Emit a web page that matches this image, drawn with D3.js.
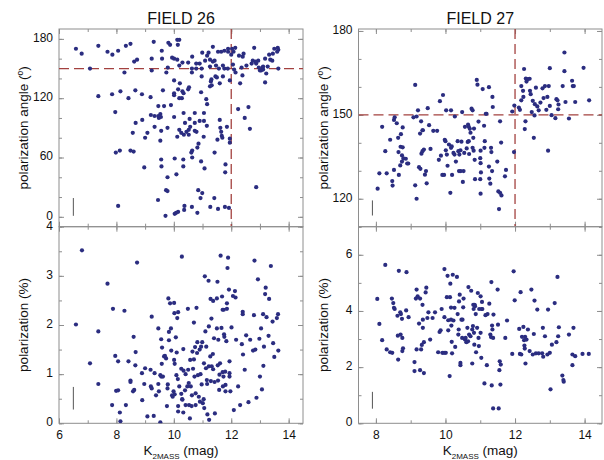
<!DOCTYPE html>
<html>
<head>
<meta charset="utf-8">
<script src="https://cdn.jsdelivr.net/npm/d3@7"></script>
<style>
  body { margin: 0; background: #ffffff; }
  text { font-family: "Liberation Sans", Arial, Helvetica, sans-serif; }
</style>
</head>
<body>
<div id="container"></div>
<script>
let w = 604;
let h = 460;

// DATA  [K_2MASS, value]
let field26Angle = [
  [6.59,170],[6.79,165],[7.08,150],[7.37,173],[7.37,122],[7.69,167],[7.86,164],[7.85,124],[7.96,106],[7.98,65],
  [8.06,168],[8.14,127],[8.12,67],[8.06,11],[8.28,146],[8.33,173],[8.49,175],[8.42,120],[8.62,157],[8.72,159],
  [8.66,128],[8.67,95],[8.49,67],[8.60,66],[8.57,85],[8.89,124],[8.90,98],[9.00,80],[8.97,50],[9.08,85],
  [9.19,121],[9.23,148],[9.23,160],[9.30,177],[9.20,103],[9.33,102],[9.33,91],[9.46,112],[9.46,102],[9.48,100],
  [9.53,104],[9.55,101],[9.58,168],[9.59,160],[9.66,112],[9.62,128],[9.56,87],[9.53,77],[9.56,58],[9.57,51],
  [9.45,17],[9.73,27],[9.78,26],[9.71,1],[9.78,40],[9.78,90],[9.74,146],[9.79,151],[9.81,176],[9.87,174],
  [9.90,113],[9.94,161],[10.01,160],[10.01,138],[10.01,125],[10.01,123],[10.01,101],[10.03,59],[10.03,3],[10.09,43],
  [10.08,4],[10.12,81],[10.12,159],[10.14,174],[10.12,179],[10.19,179],[10.19,153],[10.15,129],[10.19,120],[10.21,135],
  [10.19,88],[10.15,5],[10.26,85],[10.28,120],[10.30,156],[10.30,127],[10.33,58],[10.33,51],[10.35,83],[10.37,11],
  [10.34,125],[10.36,7],[10.34,105],[10.39,95],[10.44,86],[10.50,129],[10.53,131],[10.50,156],[10.52,83],[10.52,88],
  [10.55,99],[10.57,91],[10.64,162],[10.63,150],[10.63,146],[10.61,65],[10.64,67],[10.64,60],[10.63,10],[10.73,105],
  [10.73,95],[10.73,87],[10.78,155],[10.78,150],[10.79,86],[10.82,70],[10.82,4],[10.85,27],[10.86,74],[10.90,97],
  [10.90,155],[10.93,19],[10.95,56],[10.95,126],[10.97,150],[10.99,24],[10.97,142],[10.99,166],[11.05,97],[11.04,81],
  [11.07,49],[11.09,158],[11.05,105],[11.13,119],[11.15,92],[11.16,114],[11.16,163],[11.21,166],[11.26,159],[11.26,152],
  [11.26,132],[11.27,10],[11.29,137],[11.31,139],[11.32,133],[11.36,172],[11.36,157],[11.42,158],[11.42,65],[11.41,19],
  [11.45,142],[11.47,153],[11.50,141],[11.52,78],[11.54,167],[11.54,8],[11.57,150],[11.60,135],[11.60,98],[11.62,90],
  [11.65,86],[11.67,82],[11.65,167],[11.71,153],[11.71,142],[11.69,80],[11.76,150],[11.76,168],[11.78,10],[11.79,45],
  [11.80,53],[11.85,91],[11.89,167],[11.89,170],[11.88,150],[11.92,9],[11.95,138],[11.95,79],[11.95,75],[12.00,164],
  [12.03,170],[12.06,154],[12.08,167],[12.14,171],[12.10,149],[12.15,146],[12.24,109],[12.27,163],[12.31,135],[12.36,151],
  [12.39,143],[12.40,162],[12.43,165],[12.47,100],[12.53,153],[12.60,111],[12.65,89],[12.71,155],[12.75,158],[12.80,171],
  [12.84,157],[12.87,30],[12.87,155],[12.94,158],[12.96,151],[13.00,148],[13.04,148],[13.09,151],[13.11,149],[13.11,152],
  [13.18,136],[13.18,160],[13.22,145],[13.27,152],[13.32,164],[13.36,159],[13.43,158],[13.45,165],[13.50,170],[13.62,171],
  [13.64,169],[13.60,167],[13.64,150]
];

let field26Pol = [
  [6.59,2.01],[6.80,3.52],[7.08,1.22],[7.37,1.87],[7.37,0.80],[7.69,2.84],[7.88,2.33],[7.85,0.37],[7.96,1.37],[7.99,0.66],
  [8.06,0.67],[8.06,1.26],[8.12,0.22],[8.14,0.04],[8.28,2.29],[8.33,0.37],[8.42,1.26],[8.49,0.87],[8.49,0.84],[8.60,1.76],
  [8.58,0.65],[8.62,0.68],[8.67,1.45],[8.66,1.18],[8.72,3.27],[8.89,1.02],[8.90,0.47],[8.97,0.80],[9.00,1.12],[9.08,0.14],
  [9.19,1.09],[9.23,2.17],[9.20,0.75],[9.23,0.71],[9.30,0.15],[9.33,1.02],[9.38,0.57],[9.46,1.93],[9.46,0.80],[9.48,0.65],
  [9.53,0.98],[9.53,0.02],[9.56,1.71],[9.56,0.95],[9.59,1.54],[9.58,1.21],[9.62,0.95],[9.66,1.36],[9.69,1.37],[9.73,1.32],
  [9.76,0.35],[9.79,0.79],[9.78,0.71],[9.81,2.54],[9.83,1.86],[9.83,1.69],[9.87,2.44],[9.90,1.93],[9.91,1.48],[9.94,0.57],
  [9.96,0.54],[9.99,0.65],[10.01,2.45],[10.02,2.24],[10.01,1.29],[10.03,1.21],[10.03,0.59],[10.07,1.75],[10.09,0.98],[10.10,1.44],
  [10.12,2.14],[10.15,2.26],[10.14,0.90],[10.15,0.35],[10.15,0.24],[10.19,0.75],[10.26,1.11],[10.26,0.60],[10.28,3.39],[10.29,0.49],
  [10.30,0.48],[10.33,1.51],[10.34,1.07],[10.33,0.22],[10.39,0.67],[10.41,1.00],[10.41,0.37],[10.47,0.75],[10.49,2.33],[10.50,1.09],
  [10.52,0.82],[10.53,0.37],[10.56,0.10],[10.57,1.29],[10.59,0.75],[10.62,0.35],[10.63,0.57],[10.65,1.46],[10.67,1.11],[10.70,2.05],
  [10.70,1.30],[10.72,0.95],[10.74,1.55],[10.76,0.61],[10.76,0.37],[10.79,2.35],[10.81,1.43],[10.82,1.65],[10.84,0.98],[10.87,0.54],
  [10.90,1.50],[10.91,0.44],[10.93,1.00],[10.95,1.56],[10.97,0.79],[10.99,1.65],[11.01,0.41],[11.04,0.49],[11.05,1.22],[11.06,0.31],
  [11.08,2.99],[11.10,1.87],[11.12,1.12],[11.13,1.56],[11.15,0.88],[11.16,0.80],[11.17,0.18],[11.21,2.90],[11.22,1.97],[11.22,1.16],
  [11.23,0.07],[11.27,1.36],[11.28,2.53],[11.29,0.86],[11.31,2.13],[11.32,1.16],[11.36,1.41],[11.37,2.49],[11.37,1.10],[11.40,1.73],
  [11.42,0.84],[11.43,0.20],[11.50,1.93],[11.50,2.54],[11.52,2.88],[11.53,1.18],[11.54,0.87],[11.55,1.70],[11.58,0.68],[11.59,0.99],
  [11.61,1.22],[11.63,3.41],[11.66,1.94],[11.68,2.58],[11.70,1.04],[11.70,2.31],[11.71,0.75],[11.73,0.95],[11.74,2.31],[11.75,1.81],
  [11.76,1.76],[11.79,1.05],[11.80,0.78],[11.80,0.65],[11.83,1.67],[11.85,2.33],[11.85,2.44],[11.87,3.16],[11.89,3.37],[11.92,2.72],
  [11.94,1.26],[11.94,1.02],[11.94,0.95],[11.97,0.65],[12.01,1.95],[12.06,2.59],[12.09,0.27],[12.13,2.69],[12.15,2.56],[12.17,1.70],
  [12.24,0.75],[12.31,0.37],[12.37,1.61],[12.40,2.27],[12.40,2.22],[12.41,1.40],[12.47,1.09],[12.52,1.79],[12.60,0.43],[12.66,1.70],
  [12.76,1.48],[12.79,2.20],[12.81,3.31],[12.84,1.50],[12.88,0.52],[12.93,2.93],[12.98,1.72],[13.00,0.95],[13.04,1.93],[13.07,0.69],
  [13.11,2.22],[13.12,1.17],[13.14,1.56],[13.18,2.63],[13.20,2.76],[13.23,2.16],[13.30,1.78],[13.32,2.53],[13.38,3.20],[13.44,2.07],
  [13.46,1.63],[13.50,1.35],[13.59,2.14],[13.63,2.22],[13.64,1.48]
];

let field27Angle = [
  [8.05,123.6],[8.10,129.1],[8.18,145.7],[8.27,137.0],[8.31,129.1],[8.41,141.1],[8.47,126.3],[8.48,124.7],[8.52,130.3],[8.52,148.2],
  [8.54,149.1],[8.60,147.0],[8.64,141.8],[8.65,136.7],[8.66,128.5],[8.70,131.9],[8.71,138.6],[8.72,143.1],[8.75,135.5],[8.75,133.3],
  [8.77,145.5],[8.77,138.4],[8.79,134.4],[8.86,134.3],[8.90,132.6],[8.93,132.6],[9.08,149.1],[9.13,160.7],[9.13,124.8],[9.17,120.0],
  [9.17,149.4],[9.21,151.6],[9.24,131.3],[9.27,143.3],[9.28,130.7],[9.30,147.7],[9.31,136.1],[9.34,144.5],[9.34,137.0],[9.35,144.5],
  [9.38,137.6],[9.41,128.6],[9.44,129.9],[9.46,125.5],[9.49,152.4],[9.53,146.3],[9.57,137.8],[9.65,144.3],[9.76,144.3],[9.81,133.9],
  [9.84,154.9],[9.87,135.4],[9.93,157.1],[9.91,128.5],[9.96,128.5],[9.98,141.1],[10.00,140.6],[10.01,137.3],[10.02,151.6],[10.04,135.8],
  [10.06,131.8],[10.10,139.4],[10.14,122.1],[10.16,151.6],[10.16,138.2],[10.18,138.7],[10.19,128.5],[10.23,136.4],[10.26,135.8],[10.27,149.4],
  [10.30,133.3],[10.35,140.6],[10.37,137.0],[10.39,129.9],[10.40,135.8],[10.43,137.3],[10.44,129.9],[10.46,140.4],[10.48,151.0],[10.50,126.0],
  [10.52,129.9],[10.54,136.4],[10.56,145.7],[10.61,138.0],[10.64,140.3],[10.65,146.5],[10.67,145.7],[10.67,140.6],[10.68,136.0],[10.70,145.0],
  [10.72,143.6],[10.75,152.2],[10.78,151.6],[10.78,138.2],[10.80,141.8],[10.81,137.2],[10.82,145.1],[10.84,133.9],[10.85,127.0],[10.90,162.5],
  [10.92,160.8],[10.95,147.6],[11.00,134.5],[11.01,137.2],[11.01,132.7],[11.02,129.4],[11.00,127.0],[11.01,121.8],[11.07,159.2],[11.11,146.1],
  [11.12,138.2],[11.13,140.6],[11.16,150.4],[11.18,150.4],[11.25,131.5],[11.25,159.9],[11.26,127.2],[11.29,125.4],[11.31,138.2],[11.32,136.7],
  [11.34,129.9],[11.35,156.4],[11.36,152.8],[11.49,133.3],[11.52,122.6],[11.54,116.3],[11.57,147.7],[11.57,122.1],[11.61,121.2],[11.60,140.1],
  [11.71,128.0],[11.74,130.3],[11.92,151.2],[11.97,136.7],[11.98,153.3],[12.11,152.6],[12.14,151.8],[12.18,155.2],[12.18,160.3],[12.23,158.6],
  [12.24,156.4],[12.26,166.4],[12.28,144.9],[12.30,147.7],[12.31,163.0],[12.33,161.9],[12.37,162.8],[12.42,162.9],[12.43,158.6],[12.45,157.4],
  [12.48,151.0],[12.51,155.0],[12.54,141.8],[12.56,149.8],[12.57,153.8],[12.60,159.7],[12.64,153.0],[12.68,151.6],[12.73,154.4],[12.79,159.5],
  [12.82,156.0],[12.86,160.3],[12.90,151.8],[12.93,156.4],[12.95,137.2],[12.97,160.3],[13.00,166.7],[13.00,153.2],[13.05,149.9],[13.16,148.8],
  [13.19,155.6],[13.22,155.2],[13.24,152.0],[13.25,153.7],[13.37,160.3],[13.42,165.6],[13.42,172.3],[13.45,154.6],[13.55,148.7],[13.64,162.2],
  [13.66,160.3],[13.69,160.3],[13.73,154.6],[13.97,166.8],[14.13,155.2]
];

let field27Pol = [
  [8.04,4.43],[8.10,3.54],[8.18,2.96],[8.27,5.64],[8.31,2.63],[8.41,2.53],[8.47,2.51],[8.46,4.44],[8.50,4.28],[8.52,4.11],
  [8.54,4.07],[8.62,3.83],[8.63,3.12],[8.64,2.27],[8.66,5.43],[8.70,3.95],[8.71,3.16],[8.72,3.89],[8.75,3.72],[8.76,3.04],
  [8.76,2.57],[8.78,2.67],[8.87,4.02],[8.88,5.38],[8.94,3.78],[9.11,2.18],[9.11,1.86],[9.15,4.44],[9.17,4.76],[9.17,2.63],
  [9.20,4.52],[9.24,3.55],[9.27,4.44],[9.27,1.89],[9.30,2.63],[9.32,2.79],[9.34,4.22],[9.35,3.40],[9.35,3.69],[9.38,1.79],
  [9.38,2.89],[9.43,4.66],[9.45,4.83],[9.48,3.75],[9.51,3.95],[9.56,2.98],[9.63,3.75],[9.70,3.95],[9.79,2.53],[9.83,3.25],
  [9.86,3.31],[9.89,4.07],[9.91,2.51],[9.96,2.51],[9.97,5.49],[9.97,3.78],[10.01,2.51],[10.04,4.49],[10.06,5.25],[10.08,3.67],
  [10.08,3.31],[10.12,1.68],[10.13,4.49],[10.14,4.97],[10.16,4.12],[10.16,3.69],[10.17,3.48],[10.18,2.90],[10.19,2.49],[10.21,5.29],
  [10.23,3.66],[10.26,4.11],[10.28,2.72],[10.33,5.21],[10.35,3.89],[10.37,3.16],[10.38,3.34],[10.39,4.34],[10.41,4.58],[10.43,2.07],
  [10.43,2.15],[10.46,3.69],[10.48,3.04],[10.49,3.69],[10.51,4.13],[10.52,4.44],[10.56,2.98],[10.58,3.04],[10.60,2.89],[10.63,3.40],
  [10.65,2.92],[10.66,4.85],[10.68,3.16],[10.72,3.10],[10.74,4.72],[10.77,2.13],[10.77,3.34],[10.79,3.46],[10.80,4.22],[10.81,4.07],
  [10.82,3.22],[10.83,2.80],[10.84,4.22],[10.85,4.17],[10.87,3.89],[10.88,2.53],[10.91,3.40],[10.93,4.64],[10.95,3.04],[10.96,2.75],
  [10.97,4.07],[11.01,3.22],[11.01,4.52],[11.03,2.33],[11.04,4.07],[11.05,4.32],[11.06,4.07],[11.12,1.42],[11.15,3.85],[11.19,2.07],
  [11.21,3.89],[11.26,4.26],[11.29,3.16],[11.31,3.07],[11.32,5.03],[11.33,1.35],[11.34,3.48],[11.35,3.34],[11.37,3.04],[11.37,0.53],
  [11.38,3.87],[11.50,4.76],[11.51,3.51],[11.53,0.53],[11.55,1.89],[11.56,2.21],[11.58,1.38],[11.59,2.09],[11.72,3.04],[11.77,3.66],
  [11.92,2.47],[11.96,5.41],[11.99,4.38],[12.12,3.36],[12.14,2.47],[12.16,4.67],[12.18,2.45],[12.20,3.08],[12.24,3.43],[12.26,2.96],
  [12.27,2.77],[12.28,2.66],[12.29,3.08],[12.30,2.13],[12.33,2.98],[12.37,3.34],[12.42,2.57],[12.47,4.76],[12.51,2.45],[12.54,3.18],
  [12.56,4.37],[12.60,2.49],[12.64,4.05],[12.68,2.49],[12.78,2.49],[12.80,3.40],[12.81,2.37],[12.86,3.10],[12.93,2.45],[12.95,4.05],
  [13.00,2.51],[13.02,1.21],[13.06,2.80],[13.14,4.28],[13.19,2.89],[13.22,5.21],[13.24,3.10],[13.26,3.42],[13.36,1.70],[13.39,1.54],
  [13.40,1.48],[13.55,3.16],[13.65,2.07],[13.65,2.45],[13.68,3.40],[13.73,2.39],[13.94,2.47],[14.12,2.47]
];

// typical error bars [K, value, half-length]
let errorBars = [[6.5, 10, 9], [6.5, 0.51, 0.23], [7.9, 116.7, 2.7], [7.9, 0.82, 0.3]];

let titles = ["FIELD 26", "FIELD 27"];
let xTicksLeft = [6, 8, 10, 12, 14];
let xTicksRight = [8, 10, 12, 14];
let yTicksAngle26 = [0, 60, 120, 180];
let yTicksPol26 = [0, 1, 2, 3, 4];
let yTicksAngle27 = [120, 150, 180];
let yTicksPol27 = [0, 2, 4, 6];
let angleCut = 150;
let magCut = 12;

let dotColor = "#2b2d80";
let axisColor = "#8e8e8e";
let cutColor = "#a3413f";

let viz = d3.select("#container").append("svg")
    .attr("width", w)
    .attr("height", h)
    .style("background-color", "#ffffff");

let leftX = [59, 303];
let rightX = [358.5, 602];
let topY = [29, 226.7];
let botY = [226.7, 423.3];

let panels = [
  {data: field26Angle, xr: leftX, yr: topY, xd: [6, 14.5], yd: [-10, 190], xt: xTicksLeft, xm: 1, yt: yTicksAngle26, ym: 20,
   err: errorBars[0], cuts: true, ylab: "angle", title: titles[0], xlab: false},
  {data: field26Pol, xr: leftX, yr: botY, xd: [6, 14.5], yd: [0, 4], xt: xTicksLeft, xm: 1, yt: yTicksPol26, ym: 0.5,
   err: errorBars[1], cuts: false, ylab: "pol", xlab: true},
  {data: field27Angle, xr: rightX, yr: topY, xd: [7.5, 14.5], yd: [110, 180.7], xt: xTicksRight, xm: 1, yt: yTicksAngle27, ym: 10,
   err: errorBars[2], cuts: true, ylab: "angle", title: titles[1], xlab: false},
  {data: field27Pol, xr: rightX, yr: botY, xd: [7.5, 14.5], yd: [0, 7], xt: xTicksRight, xm: 1, yt: yTicksPol27, ym: 1,
   err: errorBars[3], cuts: false, ylab: "pol", xlab: true}
];

function minorTicks(dom, step) {
  let out = [];
  let start = Math.ceil(dom[0] / step) * step;
  for (let v = start; v <= dom[1] + 1e-9; v += step) out.push(+v.toFixed(4));
  return out;
}

panels.forEach(p => {
  let x = d3.scaleLinear().domain(p.xd).range(p.xr);
  let y = d3.scaleLinear().domain(p.yd).range([p.yr[1], p.yr[0]]);
  let g = viz.append("g");

  // clip for the marks
  let id = "clip" + Math.round(p.xr[0]) + Math.round(p.yr[0]);
  viz.append("clipPath").attr("id", id).append("rect")
      .attr("x", p.xr[0]).attr("y", p.yr[0])
      .attr("width", p.xr[1] - p.xr[0]).attr("height", p.yr[1] - p.yr[0]);

  let xMin = minorTicks(p.xd, p.xm);
  let yMin = minorTicks(p.yd, p.ym);

  // minor and major ticks on all four sides, pointing inward
  let axes = [
    [d3.axisBottom(x).tickValues(xMin).tickSize(-3).tickFormat(""), `translate(0,${p.yr[1]})`],
    [d3.axisTop(x).tickValues(xMin).tickSize(-3).tickFormat(""), `translate(0,${p.yr[0]})`],
    [d3.axisLeft(y).tickValues(yMin).tickSize(-3).tickFormat(""), `translate(${p.xr[0]},0)`],
    [d3.axisRight(y).tickValues(yMin).tickSize(-3).tickFormat(""), `translate(${p.xr[1]},0)`],
    [d3.axisTop(x).tickValues(p.xt).tickSize(-5).tickFormat(""), `translate(0,${p.yr[0]})`],
    [d3.axisRight(y).tickValues(p.yt).tickSize(-5).tickFormat(""), `translate(${p.xr[1]},0)`],
    [d3.axisLeft(y).tickValues(p.yt).tickSize(-5).tickPadding(6).tickFormat(d3.format("d")), `translate(${p.xr[0]},0)`],
    [d3.axisBottom(x).tickValues(p.xt).tickSize(-5).tickPadding(7)
        .tickFormat(p.xlab ? d3.format("d") : ""), `translate(0,${p.yr[1]})`]
  ];
  axes.forEach((a, i) => {
    let ax = g.append("g").attr("transform", a[1]).call(a[0]);
    ax.select(".domain").remove();
    ax.selectAll("line").attr("stroke", axisColor);
    ax.selectAll("text").attr("fill", "#111").style("font-size", "12px")
      .style("font-family", "'Liberation Sans', Arial, sans-serif");
    if (i == 6) ax.selectAll("text").attr("dy", "0.2em");
  });

  g.append("rect")
      .attr("x", p.xr[0]).attr("y", p.yr[0])
      .attr("width", p.xr[1] - p.xr[0]).attr("height", p.yr[1] - p.yr[0])
      .attr("fill", "none").attr("stroke", axisColor).attr("stroke-width", 1);

  // cut lines
  if (p.cuts) {
    let cg = g.append("g").attr("clip-path", `url(#${id})`);
    cg.append("line")
        .attr("x1", p.xr[0]).attr("x2", p.xr[1])
        .attr("y1", y(angleCut)).attr("y2", y(angleCut))
        .attr("stroke", cutColor).attr("stroke-width", 1.3).attr("stroke-dasharray", "10,5");
    cg.append("line")
        .attr("x1", x(magCut)).attr("x2", x(magCut))
        .attr("y1", p.yr[0]).attr("y2", p.yr[1])
        .attr("stroke", cutColor).attr("stroke-width", 1.3).attr("stroke-dasharray", "10,5");
  }

  // points
  g.append("g").attr("clip-path", `url(#${id})`)
    .selectAll("circle").data(p.data).enter()
    .append("circle")
      .attr("cx", d => x(d[0]))
      .attr("cy", d => y(d[1]))
      .attr("r", 2.1)
      .attr("fill", dotColor);

  // typical error bar
  g.append("line")
      .attr("x1", x(p.err[0])).attr("x2", x(p.err[0]))
      .attr("y1", y(p.err[1] - p.err[2])).attr("y2", y(p.err[1] + p.err[2]))
      .attr("stroke", "#555").attr("stroke-width", 1);

  let cx = (p.xr[0] + p.xr[1]) / 2;
  let cy = (p.yr[0] + p.yr[1]) / 2;

  if (p.title) {
    g.append("text").attr("x", cx).attr("y", 24)
        .attr("text-anchor", "middle").style("font-size", "16px").attr("fill", "#111")
        .text(p.title);
  }

  // y label
  let yl = g.append("text")
      .attr("transform", `translate(${p.xr[0] - 31},${cy}) rotate(-90)`)
      .attr("text-anchor", "middle").style("font-size", "13.5px").attr("fill", "#111");
  if (p.ylab == "angle") {
    yl.append("tspan").text("polarization angle (");
    yl.append("tspan").text("o").style("font-size", "8.5px").attr("dy", -5);
    yl.append("tspan").text(")").attr("dy", 5);
  } else {
    yl.text("polarization (%)");
  }

  // x label
  if (p.xlab) {
    let xl = g.append("text").attr("x", cx).attr("y", 455)
        .attr("text-anchor", "middle").style("font-size", "13.5px").attr("fill", "#111");
    xl.append("tspan").text("K");
    xl.append("tspan").text("2MASS").style("font-size", "8px").attr("dy", 4);
    xl.append("tspan").text(" (mag)").attr("dy", -4);
  }
});
</script>
</body>
</html>
